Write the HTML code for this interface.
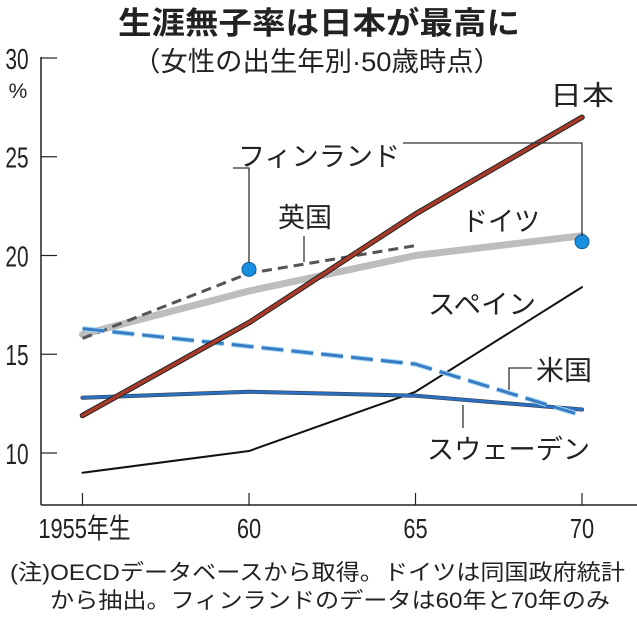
<!DOCTYPE html>
<html><head><meta charset="utf-8">
<style>
html,body{margin:0;padding:0;background:#fff;}
body{width:637px;height:616px;overflow:hidden;font-family:"Liberation Sans","Noto Sans CJK JP",sans-serif;}
svg text{font-family:"Liberation Sans","Noto Sans CJK JP",sans-serif;fill:#222;}
</style></head><body>
<svg width="637" height="616" viewBox="0 0 637 616">
<text x="118" y="34" font-size="31" font-weight="bold" textLength="402" lengthAdjust="spacingAndGlyphs">生涯無子率は日本が最高に</text>
<text x="133" y="71" font-size="27" textLength="368" lengthAdjust="spacingAndGlyphs">（女性の出生年別·50歳時点）</text>
<text x="18" y="98" text-anchor="middle" font-size="21">%</text>
<g id="axes"></g>
<g id="marks"></g>
<g id="labels" font-size="27">
<text x="550" y="105" textLength="64" lengthAdjust="spacingAndGlyphs">日本</text>
<text x="238" y="166" textLength="162" lengthAdjust="spacingAndGlyphs">フィンランド</text>
<text x="278" y="227" textLength="54" lengthAdjust="spacingAndGlyphs">英国</text>
<text x="462" y="231" textLength="78" lengthAdjust="spacingAndGlyphs">ドイツ</text>
<text x="428" y="314" textLength="108" lengthAdjust="spacingAndGlyphs">スペイン</text>
<text x="536" y="380" textLength="56" lengthAdjust="spacingAndGlyphs">米国</text>
<text x="427" y="459" textLength="163" lengthAdjust="spacingAndGlyphs">スウェーデン</text>
</g>
<g stroke="#333" stroke-width="1.3" fill="none">
<polyline points="249,263 249,168 233,168"/>
<polyline points="403,143 582,143 582,236"/>
<line x1="304" y1="236" x2="304" y2="262"/>
<polyline points="509,390 509,368 532,368"/>
<line x1="463" y1="405" x2="463" y2="428"/>
</g>
<text x="10" y="580" font-size="22" textLength="615" lengthAdjust="spacingAndGlyphs">(注)OECDデータベースから取得。ドイツは同国政府統計</text>
<text x="50" y="608" font-size="22" textLength="560" lengthAdjust="spacingAndGlyphs">から抽出。フィンランドのデータは60年と70年のみ</text>
</svg>
<script>
const years=[1955,1960,1965,1970];
const xTickLabels=["1955年生","60","65","70"];
const yTicks=[10,15,20,25,30];
const japan=[11.9,16.6,22.1,27.0];
const germany=[16.0,18.2,20.0,21.0];
const uk=[15.8,19.1,20.5];
const finlandYears=[1960,1970];
const finland=[19.3,20.7];
const spain=[9.0,10.1,13.1,18.4];
const us=[16.3,15.4,14.5,11.9];
const sweden=[12.8,13.1,12.9,12.2];

const NS="http://www.w3.org/2000/svg";
const x=y=>82.5+(y-1955)*(582-82.5)/15;
const yS=v=>453-(v-10)*19.75;
const axes=document.getElementById('axes'),marks=document.getElementById('marks');
function mk(tag,attrs,parent){const e=document.createElementNS(NS,tag);for(const k in attrs)e.setAttribute(k,attrs[k]);parent.appendChild(e);return e;}
let e=mk('line',{x1:41,y1:57,x2:41,y2:505,stroke:'#222','stroke-width':1.5},axes);


e=mk('line',{x1:41,y1:505,x2:637,y2:505,stroke:'#222','stroke-width':1.5},axes);


yTicks.forEach(v=>{
 let t=mk('line',{x1:41,y1:yS(v),x2:57,y2:yS(v),stroke:'#222','stroke-width':1.2},axes);
 
 
 let l=mk('text',{x:17,y:yS(v)+11,'text-anchor':'middle','font-size':29},axes);
 l.setAttribute('transform',`matrix(0.72,0,0,1,${17*0.28},0)`);
 l.textContent=v;
 
 
});
years.forEach((yr,i)=>{
 let t=mk('line',{x1:x(yr),y1:493,x2:x(yr),y2:505,stroke:'#222','stroke-width':1.2},axes);
 
 
 let cx=x(yr)+(i===0?2:0);
 let l=mk('text',{x:cx,y:538,'text-anchor':'middle','font-size':28},axes);
 l.setAttribute('transform',`matrix(0.78,0,0,1,${cx*0.22},0)`);
 l.textContent=xTickLabels[i];
 
 
});
function pts(ys,vals){return vals.map((v,i)=>x(ys[i])+','+yS(v)).join(' ');}
function line(name,ys,vals,style){
 let p=mk('polyline',Object.assign({points:pts(ys,vals),fill:'none','stroke-linejoin':'round','stroke-linecap':'round'},style),marks);
 
 
 return p;
}
line('line-germany',years,germany,{stroke:'#bdbdbd','stroke-width':7});
line('line-uk',years.slice(0,3),uk,{stroke:'#555','stroke-width':3,'stroke-dasharray':'10,6','stroke-linecap':'butt'});
line('line-spain',years,spain,{stroke:'#111','stroke-width':2});
line('line-sweden-shadow',years,sweden,{stroke:'#333','stroke-width':4});
line('line-sweden',years,sweden,{stroke:'#2a6fc0','stroke-width':3});
line('line-us-glow',years,us,{stroke:'#9fd8f5','stroke-width':5,'stroke-dasharray':'22,8','stroke-linecap':'butt'});
line('line-us',years,us,{stroke:'#3a7cc4','stroke-width':3,'stroke-dasharray':'22,8','stroke-linecap':'butt'});
line('line-japan-shadow',years,japan,{stroke:'#222','stroke-width':5.5});
line('line-japan',years,japan,{stroke:'#a83a2a','stroke-width':3.5});
finland.forEach((v,i)=>{
 let c=mk('circle',{cx:x(finlandYears[i]),cy:yS(v),r:7,fill:'#1a8fe0',stroke:'#0d5f9e','stroke-width':1},marks);
 
 
});
</script>
</body></html>
